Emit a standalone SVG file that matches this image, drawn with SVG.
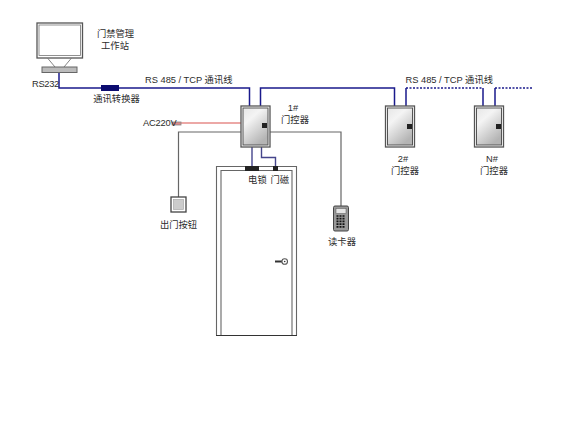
<svg xmlns="http://www.w3.org/2000/svg" width="569" height="436" viewBox="0 0 569 436">
<style>
text{font-family:"Liberation Sans","Noto Sans CJK SC",sans-serif;font-size:9.3px;fill:#2c2c2c}
.m{text-anchor:middle}
.g{fill:none;stroke:#666;stroke-width:1.2}
.b{fill:none;stroke:#1a1a8c;stroke-width:1.5}
.d{stroke-dasharray:2 1.5}
.out{fill:#fff;stroke:#555;stroke-width:1.300}
.box{fill:url(#cab);stroke:#555;stroke-width:1}
.lk{fill:#222}
</style>
<defs>
<linearGradient id="cab" x1="0" y1="0" x2="0.6" y2="1"><stop offset="0" stop-color="#e6e6e6"/><stop offset=".35" stop-color="#f4f4f4"/><stop offset="1" stop-color="#b4b4b4"/></linearGradient>
</defs>
<rect width="569" height="436" fill="#fff"/>
<g id="connectors">
<path class="b" d="M59 72V88H249.500V106"/>
<path class="b" d="M260.500 106V88H394.500V106"/>
<path class="b d" d="M406 88H483"/>
<path class="b" d="M406 106V88M483 88V106M495 106V88"/>
<path class="b d" d="M495 88H532"/>
<path d="M181 123H241" fill="none" stroke="#d9534f" stroke-width="1.2"/>
<path class="g" d="M241 132H178.500V197"/>
<path class="g" d="M270 132H341V206"/>
<path d="M252 147V166" fill="none" stroke="#45458c" stroke-width="1.4"/>
<path d="M261.500 147V157.500H275.500V166" fill="none" stroke="#45458c" stroke-width="1.4"/>
</g>
<g id="workstation">
<rect x="37" y="23" width="45.500" height="35" fill="#fff" stroke="#555" stroke-width="1.300"/>
<rect x="39" y="25" width="41.500" height="30.500" fill="#fff" stroke="#777" stroke-width=".8"/>
<path d="M47.500 58L55 67M71.500 58L64 67" fill="none" stroke="#777" stroke-width=".9"/>
<rect x="42" y="67" width="35" height="5.500" fill="#bbb" stroke="#666"/>
<text class="m" x="115.500" y="37">门禁管理</text>
<text class="m" x="115" y="49">工作站</text>
<text x="32" y="87" letter-spacing="-.3">RS232</text>
</g>
<g id="converter">
<rect x="101" y="85" width="18" height="6" fill="#0c0c70"/>
<text class="m" x="116.500" y="102">通讯转换器</text>
</g>
<text x="145" y="83">RS 485 / TCP 通讯线</text>
<text x="405.500" y="83">RS 485 / TCP 通讯线</text>
<g id="power">
<rect x="172" y="122" width="9" height="3" fill="#d88" stroke="#888" stroke-width=".8"/>
<text x="143" y="126" letter-spacing="-.2">AC220V</text>
</g>
<g id="controller1">
<rect class="out" x="241" y="106" width="29" height="41"/>
<rect class="box" x="243" y="108" width="25" height="37"/>
<rect class="lk" x="262" y="123" width="5" height="5"/>
<text class="m" x="293" y="111">1#</text>
<text class="m" x="295" y="123">门控器</text>
</g>
<g id="controller2">
<rect class="out" x="385.500" y="106" width="29" height="41"/>
<rect class="box" x="387.500" y="108" width="25" height="37"/>
<rect class="lk" x="407" y="124" width="5" height="5"/>
<text class="m" x="403" y="161.500">2#</text>
<text class="m" x="405" y="174">门控器</text>
</g>
<g id="controllerN">
<rect class="out" x="474.500" y="106" width="29" height="41"/>
<rect class="box" x="476.500" y="108" width="25" height="37"/>
<rect class="lk" x="496" y="124" width="5" height="5"/>
<text class="m" x="492" y="161.500">N#</text>
<text class="m" x="494" y="174">门控器</text>
</g>
<g id="door">
<path d="M216.500 335V166.500H296.500V335M221 335V170.500H292V335" fill="none" stroke="#666" stroke-width="1.100"/>
<path d="M216 335.500H297" stroke="#333" stroke-width="1"/>
<rect class="lk" x="245" y="166" width="14" height="5"/>
<rect class="lk" x="273" y="166" width="5" height="5"/>
<text x="248" y="182.500" letter-spacing=".3">电锁</text>
<text x="270.500" y="182.500">门磁</text>
<path d="M275 261.500H282" stroke="#333" stroke-width="2"/>
<circle cx="284.700" cy="261.500" r="2.800" fill="#fff" stroke="#555" stroke-width="1.100"/>
<circle cx="284.700" cy="261.500" r=".8" fill="#333"/>
</g>
<g id="button">
<rect x="171" y="197" width="15" height="15" fill="#fff" stroke="#444" stroke-width="1.300"/>
<rect x="173.500" y="199.500" width="10" height="10" fill="#ccc" stroke="#aaa" stroke-width=".7"/>
<text class="m" x="178.500" y="228">出门按钮</text>
</g>
<g id="reader">
<rect x="333.500" y="206" width="15" height="25" rx="1.500" fill="#999" stroke="#444"/>
<rect x="336" y="208.500" width="10" height="5" fill="#e6e6e6" stroke="#555" stroke-width=".5"/>
<path d="M336.500 216H345.500M336.500 218.700H345.500M336.500 221.400H345.500M336.500 224.100H345.500M336.500 226.800H345.500" stroke="#111" stroke-width="1.700" stroke-dasharray="2 1"/>
<text class="m" x="342" y="245">读卡器</text>
</g>
</svg>
